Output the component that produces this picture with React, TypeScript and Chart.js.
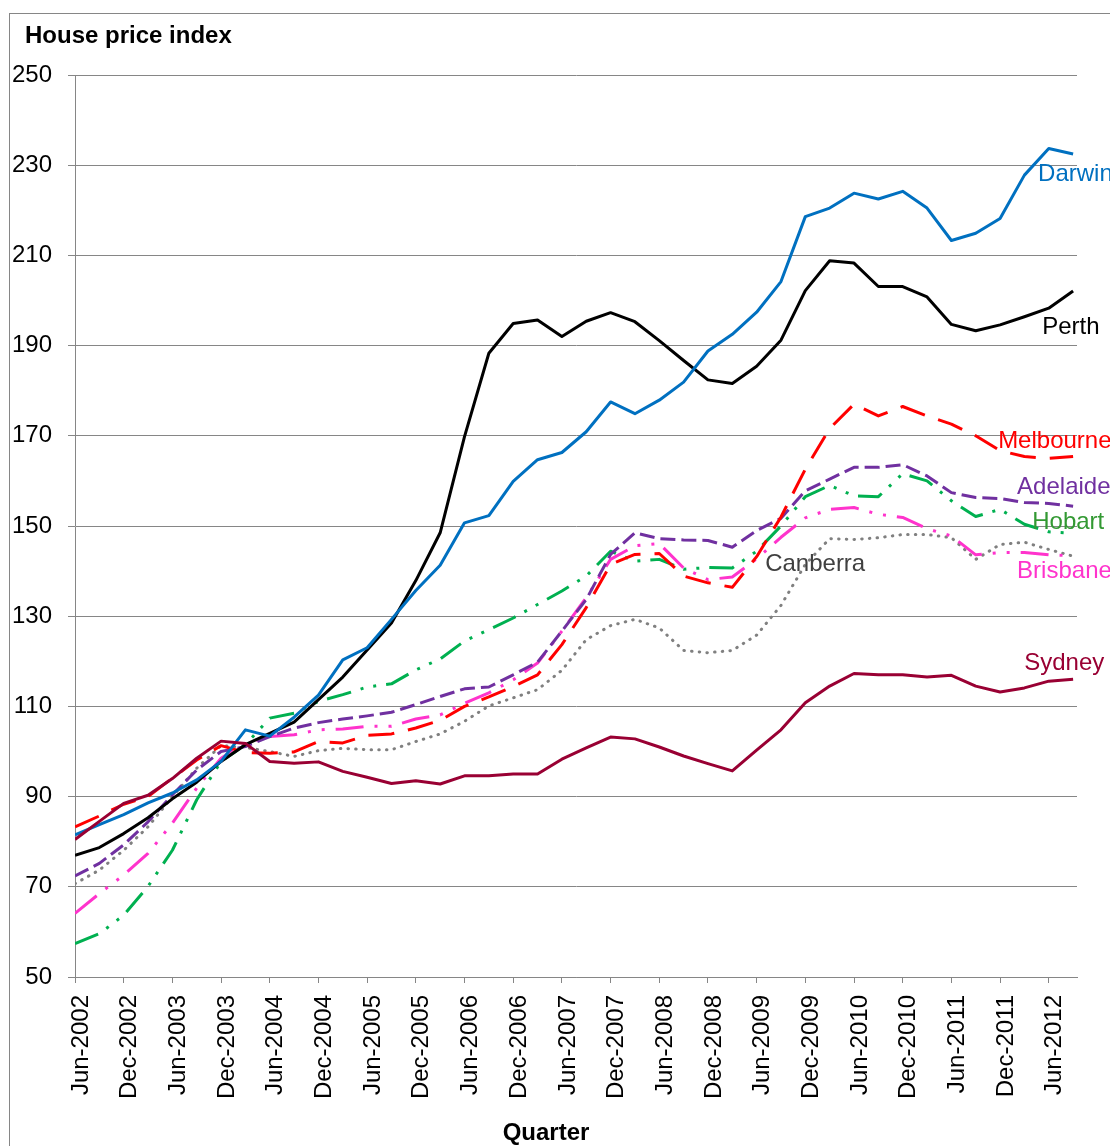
import React, { useEffect, useRef } from "react";
import { Chart, registerables } from "chart.js";

Chart.register(...registerables);

const quarters = [
  "Jun-2002", "Sep-2002", "Dec-2002", "Mar-2003", "Jun-2003", "Sep-2003", "Dec-2003",
  "Mar-2004", "Jun-2004", "Sep-2004", "Dec-2004", "Mar-2005", "Jun-2005", "Sep-2005",
  "Dec-2005", "Mar-2006", "Jun-2006", "Sep-2006", "Dec-2006", "Mar-2007", "Jun-2007",
  "Sep-2007", "Dec-2007", "Mar-2008", "Jun-2008", "Sep-2008", "Dec-2008", "Mar-2009",
  "Jun-2009", "Sep-2009", "Dec-2009", "Mar-2010", "Jun-2010", "Sep-2010", "Dec-2010",
  "Mar-2011", "Jun-2011", "Sep-2011", "Dec-2011", "Mar-2012", "Jun-2012", "Sep-2012",
];

const sydney = [80.5, 84.5, 88.5, 90.3, 94, 98.5, 102.3, 101.8, 97.8, 97.4, 97.7, 95.6, 94.3, 92.9, 93.5, 92.8, 94.6, 94.6, 95, 95, 98.3, 100.8, 103.2, 102.8, 101, 99, 97.3, 95.7, 100.3, 104.8, 110.8, 114.5, 117.3, 117, 117, 116.5, 116.9, 114.5, 113.2, 114.1, 115.6, 116];
const melbourne = [83.3, 85.7, 88.3, 90, 94.1, 98.1, 101.3, 99.8, 99.6, 99.9, 102.2, 101.9, 103.6, 103.9, 105.2, 106.9, 110, 112.1, 114.4, 117, 123.7, 131.9, 141.5, 143.7, 143.9, 138.9, 137.4, 136.4, 143.2, 152, 162.6, 171.6, 177, 174.4, 176.5, 174.4, 172.6, 170, 166.7, 165.4, 165, 165.4];
const brisbane = [64.1, 68.5, 72.6, 77.4, 84.1, 91.9, 98.5, 101.9, 103.3, 103.7, 104.8, 105, 105.6, 105.6, 107.2, 108.1, 110.7, 113, 115.9, 119.6, 126.7, 134.1, 142.6, 145.6, 146.1, 140.7, 138.1, 138.7, 142.7, 147.5, 151.8, 153.7, 154.1, 152.6, 151.9, 149.4, 147.8, 143.6, 144.1, 144.1, 143.6, 143.4];
const adelaide = [72.4, 75.2, 79.3, 84.4, 90.4, 95.9, 100, 101.1, 103.3, 105.2, 106.4, 107.2, 107.9, 108.7, 110.4, 112.2, 113.9, 114.3, 117, 119.8, 126.7, 133.7, 143.7, 148.5, 147.2, 146.9, 146.8, 145.3, 149, 151.7, 157.8, 160.4, 163, 163, 163.6, 161.1, 157.4, 156.3, 156.1, 155.2, 155, 154.4];
const perth = [77, 78.7, 81.8, 85.3, 89.5, 93.2, 97.8, 101.5, 104, 106.5, 111.5, 116.5, 122.5, 128.5, 137.9, 148.5, 169.8, 188.3, 194.9, 195.7, 192, 195.4, 197.3, 195.3, 191.1, 186.7, 182.4, 181.6, 185.4, 191.2, 202.2, 208.8, 208.3, 203.1, 203.1, 200.8, 194.7, 193.3, 194.6, 196.4, 198.3, 202.1];
const hobart = [57.4, 59.6, 63.7, 70.1, 78.1, 89.3, 97.8, 101.5, 107.4, 108.5, 111.1, 112.6, 114.3, 115, 118.1, 120.5, 124.5, 127, 129.6, 132.6, 135.6, 138.9, 144.4, 142.2, 142.6, 140.4, 140.8, 140.7, 144.4, 150, 156.5, 159, 156.7, 156.5, 161.6, 160, 155.6, 152.1, 153.7, 150.4, 148.7, 148.4];
const darwin = [81.5, 83.8, 86, 88.6, 90.8, 93.7, 97.8, 104.8, 103.4, 107.6, 112.5, 120.3, 123, 129.3, 135.7, 141.3, 150.7, 152.3, 159.9, 164.7, 166.3, 170.9, 177.5, 174.9, 177.9, 181.9, 188.8, 192.5, 197.4, 204.2, 218.6, 220.5, 223.8, 222.5, 224.2, 220.5, 213.3, 214.9, 218.2, 227.8, 233.7, 232.5];
const canberra = [70.7, 73.7, 78.1, 83.3, 90, 96.3, 101.3, 100.9, 100, 98.9, 100.2, 100.7, 100.4, 100.4, 102.2, 103.9, 106.7, 110.1, 111.9, 113.7, 118, 124.8, 127.9, 129.3, 127.4, 122.4, 121.9, 122.4, 125.8, 132.4, 141.5, 147.2, 147, 147.4, 148.1, 148.1, 147.4, 142.6, 145.9, 146.4, 144.8, 143.3];

const yMin = 50;
const yMax = 250;
const yStep = 20;

const FONT = "'Liberation Sans', Arial, Helvetica, sans-serif";
const GRID = "#868686";

const seriesStyles = [
  { name: "Sydney", data: sydney, color: "#990033", dash: [] as number[], cap: "butt" },
  { name: "Darwin", data: darwin, color: "#0070C0", dash: [], cap: "butt" },
  { name: "Perth", data: perth, color: "#000000", dash: [], cap: "butt" },
  { name: "Melbourne", data: melbourne, color: "#FF0000", dash: [26, 14], cap: "butt" },
  { name: "Adelaide", data: adelaide, color: "#7030A0", dash: [15, 6], cap: "butt" },
  { name: "Hobart", data: hobart, color: "#00B050", dash: [25, 10, 3, 10, 3, 10], cap: "butt" },
  { name: "Brisbane", data: brisbane, color: "#FF33CC", dash: [28, 11, 3, 11, 3, 11], cap: "butt" },
  { name: "Canberra", data: canberra, color: "#808080", dash: [0.5, 7.2], cap: "round" },
];

// label anchors in data units (x = quarter index, y = index value)
const seriesLabels = [
  { text: "Darwin", x: 39.56, y: 228.0, color: "#0070C0" },
  { text: "Perth", x: 39.73, y: 194.1, color: "#000000" },
  { text: "Melbourne", x: 37.92, y: 168.8, color: "#FF0000" },
  { text: "Adelaide", x: 38.7, y: 158.6, color: "#7030A0" },
  { text: "Hobart", x: 39.32, y: 150.7, color: "#339933" },
  { text: "Canberra", x: 28.35, y: 141.4, color: "#404040" },
  { text: "Brisbane", x: 38.7, y: 140.0, color: "#FF33CC" },
  { text: "Sydney", x: 38.99, y: 119.6, color: "#990033" },
];

const titleText = "House price index";
const xTitleText = "Quarter";

const decorPlugin = {
  id: "decor",
  beforeDraw(chart: any) {
    const ctx = chart.ctx;
    ctx.save();
    ctx.fillStyle = "#ffffff";
    ctx.fillRect(0, 0, chart.width, chart.height);
    ctx.strokeStyle = GRID;
    ctx.lineWidth = 1;
    ctx.strokeRect(9.5, 13.5, chart.width + 20, chart.height + 20);
    ctx.restore();
  },
  afterDraw(chart: any) {
    const ctx = chart.ctx;
    const xs = chart.scales.x;
    const ys = chart.scales.y;
    ctx.save();
    ctx.font = `24px ${FONT}`;
    ctx.textAlign = "left";
    ctx.textBaseline = "middle";
    for (const l of seriesLabels) {
      ctx.fillStyle = l.color;
      ctx.fillText(l.text, xs.getPixelForValue(l.x), ys.getPixelForValue(l.y));
    }
    ctx.fillStyle = "#000000";
    ctx.font = `bold 24px ${FONT}`;
    ctx.textBaseline = "alphabetic";
    ctx.fillText(titleText, 25, 43);
    ctx.textAlign = "center";
    ctx.fillText(xTitleText, 546, 1140);
    ctx.restore();
  },
};

export default function App() {
  const ref = useRef<HTMLCanvasElement | null>(null);

  useEffect(() => {
    if (!ref.current) return;
    const chart = new Chart(ref.current, {
      type: "line",
      data: {
        datasets: seriesStyles.map((s) => ({
          label: s.name,
          data: s.data.map((v, i) => ({ x: i, y: v })),
          borderColor: s.color,
          backgroundColor: s.color,
          borderWidth: 3,
          borderDash: s.dash,
          borderCapStyle: s.cap as any,
          borderJoinStyle: "round" as any,
          pointRadius: 0,
          pointHoverRadius: 0,
          tension: 0,
          fill: false,
        })),
      },
      options: {
        animation: false,
        responsive: false,
        events: [],
        layout: { padding: { left: 0, top: 75, right: 33, bottom: 0 } },
        plugins: {
          legend: { display: false },
          tooltip: { enabled: false },
          title: { display: false },
        },
        scales: {
          x: {
            type: "linear",
            min: 0,
            max: 41.16,
            afterFit: (s: any) => {
              s.height = 169;
            },
            border: { display: true, color: GRID, width: 1 },
            grid: {
              display: true,
              drawOnChartArea: false,
              drawTicks: true,
              tickLength: 6,
              color: GRID,
              lineWidth: 1,
            },
            ticks: {
              stepSize: 2,
              includeBounds: false,
              autoSkip: false,
              minRotation: 90,
              maxRotation: 90,
              padding: 12,
              labelOffset: 6,
              color: "#000000",
              font: { family: FONT, size: 24 },
              callback: (v: any) => quarters[Math.round(Number(v))] ?? "",
            },
          },
          y: {
            type: "linear",
            min: yMin,
            max: yMax,
            afterFit: (s: any) => {
              s.width = 75;
            },
            border: { display: true, color: GRID, width: 1 },
            grid: {
              display: true,
              drawOnChartArea: true,
              drawTicks: true,
              tickLength: 7,
              color: GRID,
              lineWidth: 1,
            },
            ticks: {
              stepSize: yStep,
              padding: 16,
              color: "#000000",
              font: { family: FONT, size: 24 },
            },
          },
        },
      },
      plugins: [decorPlugin],
    });
    return () => chart.destroy();
  }, []);

  return (
    <div style={{ position: "absolute", left: 0, top: 0, width: 1110, height: 1146, overflow: "hidden" }}>
      <canvas ref={ref} width={1110} height={1146} style={{ display: "block", width: 1110, height: 1146 }} />
    </div>
  );
}
